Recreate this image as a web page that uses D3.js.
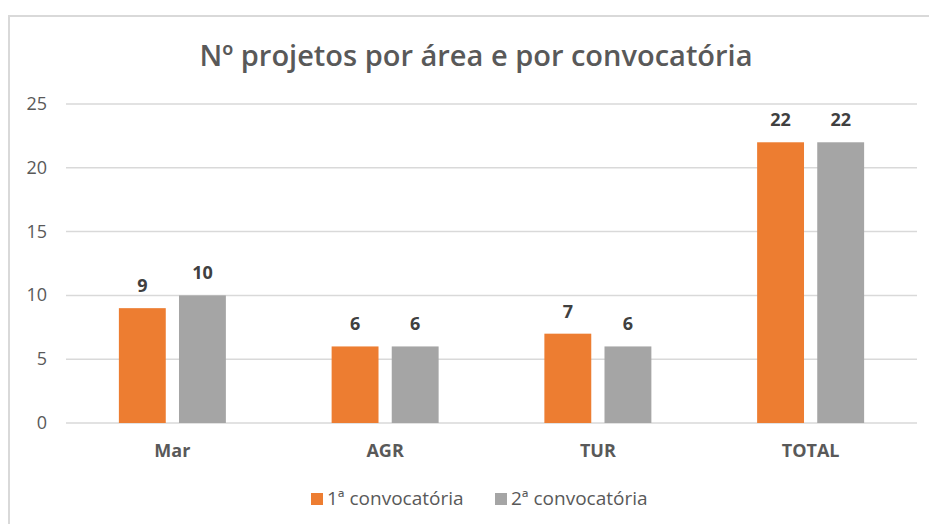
<!DOCTYPE html>
<html>
<head>
<meta charset="utf-8">
<script src="https://cdn.jsdelivr.net/npm/d3@7"></script>
<style>
  body { margin: 0; background: #fff; }
  text { font-family: "Open Sans", "Liberation Sans", sans-serif; }
</style>
</head>
<body>
<div id="chart"></div>
<script>
// data
var categories = ["Mar", "AGR", "TUR", "TOTAL"];
var seriesNames = ["1ª convocatória", "2ª convocatória"];
var serie1 = [9, 6, 7, 22];
var serie2 = [10, 6, 6, 22];
var yTicks = [0, 5, 10, 15, 20, 25];

var width = 929, height = 524;
var margin = {top: 104, right: 12, bottom: 101, left: 66};
var colors = ["#ed7d31", "#a5a5a5"];

var svg = d3.select("#chart").append("svg")
    .attr("width", width)
    .attr("height", height);

svg.append("rect")
    .attr("width", width)
    .attr("height", height)
    .attr("fill", "white");

// frame (only left and top edges visible)
svg.append("path")
    .attr("d", "M9," + height + "V16H" + width)
    .attr("fill", "none")
    .attr("stroke", "#d9d9d9")
    .attr("stroke-width", 2);

svg.append("text")
    .attr("x", 476)
    .attr("y", 66)
    .attr("text-anchor", "middle")
    .attr("font-size", "29px")
    .attr("font-weight", "600")
    .attr("fill", "#595959")
    .text("Nº projetos por área e por convocatória");

var x = d3.scaleBand()
    .domain(categories)
    .range([margin.left, width - margin.right]);

var x1 = d3.scaleBand()
    .domain([0, 1])
    .range([-53.5, 53.5])
    .paddingInner(0.22);

var y = d3.scaleLinear()
    .domain([0, 25])
    .range([height - margin.bottom, margin.top]);

// gridlines
svg.append("g")
    .selectAll("line")
    .data(yTicks)
    .enter().append("line")
    .attr("x1", margin.left)
    .attr("x2", width - margin.right)
    .attr("y1", function(d){ return y(d); })
    .attr("y2", function(d){ return y(d); })
    .attr("stroke", "#d9d9d9")
    .attr("stroke-width", 1.5);

// y axis labels
svg.append("g")
    .selectAll("text")
    .data(yTicks)
    .enter().append("text")
    .attr("x", 47)
    .attr("y", function(d){ return y(d) + 6; })
    .attr("text-anchor", "end")
    .attr("font-size", "18px")
    .attr("fill", "#595959")
    .text(function(d){ return d; });

// x axis labels
svg.append("g")
    .selectAll("text")
    .data(categories)
    .enter().append("text")
    .attr("x", function(d){ return x(d) + x.bandwidth() / 2; })
    .attr("y", 457)
    .attr("text-anchor", "middle")
    .attr("font-size", "18px")
    .attr("font-weight", "bold")
    .attr("fill", "#595959")
    .text(function(d){ return d; });

var series = [serie1, serie2];
series.forEach(function(vals, s) {
    var g = svg.append("g");
    g.selectAll("rect")
        .data(vals)
        .enter().append("rect")
        .attr("x", function(d, i){ return x(categories[i]) + x.bandwidth() / 2 + x1(s); })
        .attr("width", x1.bandwidth())
        .attr("y", function(d){ return y(d); })
        .attr("height", function(d){ return y(0) - y(d); })
        .attr("fill", colors[s]);
    g.selectAll("text")
        .data(vals)
        .enter().append("text")
        .attr("x", function(d, i){ return x(categories[i]) + x.bandwidth() / 2 + x1(s) + x1.bandwidth() / 2; })
        .attr("y", function(d){ return y(d) - 16; })
        .attr("text-anchor", "middle")
        .attr("font-size", "18px")
        .attr("font-weight", "bold")
        .attr("fill", "#404040")
        .text(function(d){ return d; });
});

// legend
var legendX = [311, 495];
var legend = svg.append("g");
seriesNames.forEach(function(name, s) {
    legend.append("rect")
        .attr("x", legendX[s])
        .attr("y", 493)
        .attr("width", 12)
        .attr("height", 12)
        .attr("fill", colors[s]);
    legend.append("text")
        .attr("x", legendX[s] + 16)
        .attr("y", 505)
        .attr("font-size", "19px")
        .attr("fill", "#595959")
        .text(name);
});
</script>
</body>
</html>
